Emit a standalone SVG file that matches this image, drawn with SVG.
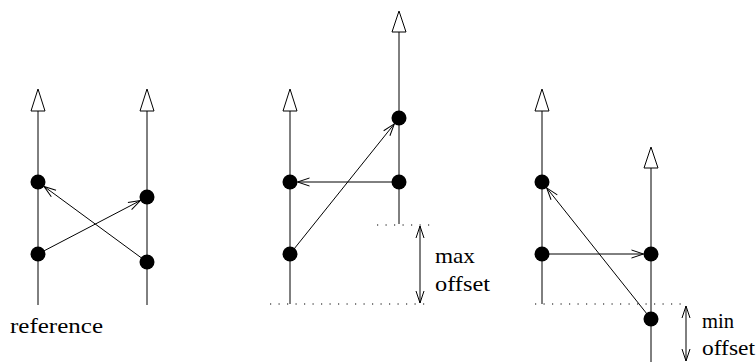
<svg xmlns="http://www.w3.org/2000/svg" width="756" height="362" viewBox="0 0 756 362">
<style>
.life{stroke:#000;stroke-width:1;fill:none}
.tri{fill:#fff;stroke:#000;stroke-width:1}
.dot{fill:#000}
.msg{stroke:#000;stroke-width:1;fill:none;marker-end:url(#v)}
.dots{stroke:#000;stroke-width:1.2;stroke-dasharray:1.2 7.3;fill:none}
.dim{stroke:#000;stroke-width:1;fill:none;marker-start:url(#vs);marker-end:url(#v)}
</style>
<defs>
<marker id="v" markerUnits="userSpaceOnUse" markerWidth="16" markerHeight="12" refX="14" refY="6" orient="auto" overflow="visible">
<path d="M2 2 L14 6 L2 10" fill="none" stroke="#000" stroke-width="1"/>
</marker>
<marker id="vs" markerUnits="userSpaceOnUse" markerWidth="16" markerHeight="12" refX="2" refY="6" orient="auto" overflow="visible">
<path d="M14 2 L2 6 L14 10" fill="none" stroke="#000" stroke-width="1"/>
</marker>
</defs>
<g id="connectors">
<line class="msg" x1="38" y1="254" x2="140.4" y2="200.5"/>
<line class="msg" x1="147" y1="262" x2="44" y2="186.4"/>
<line class="msg" x1="290" y1="254" x2="394.3" y2="123.9"/>
<line class="msg" x1="399" y1="182" x2="297.5" y2="182"/>
<line class="msg" x1="542" y1="254" x2="643.5" y2="254"/>
<line class="msg" x1="651" y1="319" x2="546.7" y2="187.9"/>
</g>
<g id="p1-left">
<line class="life" x1="38" y1="111" x2="38" y2="305"/>
<polygon class="tri" points="38,89 31,111 45,111"/>
<circle class="dot" cx="38" cy="182" r="7.5"/>
<circle class="dot" cx="38" cy="254" r="7.5"/>
</g>
<g id="p1-right">
<line class="life" x1="147" y1="111" x2="147" y2="305"/>
<polygon class="tri" points="147,89 140,111 154,111"/>
<circle class="dot" cx="147" cy="197" r="7.5"/>
<circle class="dot" cx="147" cy="262" r="7.5"/>
</g>
<text x="10" y="333" font-family="Liberation Serif, DejaVu Serif, serif" font-size="22" fill="#000" textLength="93" lengthAdjust="spacingAndGlyphs">reference</text>
<g id="p2-left">
<line class="life" x1="290" y1="111" x2="290" y2="304"/>
<polygon class="tri" points="290,89 283,111 297,111"/>
<circle class="dot" cx="290" cy="182" r="7.5"/>
<circle class="dot" cx="290" cy="254" r="7.5"/>
</g>
<g id="p2-right">
<line class="life" x1="399" y1="32" x2="399" y2="224"/>
<polygon class="tri" points="399,11 392,32 406,32"/>
<circle class="dot" cx="399" cy="118" r="7.5"/>
<circle class="dot" cx="399" cy="182" r="7.5"/>
</g>
<g id="max-offset" font-family="Liberation Serif, DejaVu Serif, serif" font-size="22" fill="#000">
<line class="dots" x1="377" y1="225" x2="430" y2="225"/>
<line class="dots" x1="270" y1="304" x2="430" y2="304"/>
<line class="dim" x1="420" y1="226" x2="420" y2="303"/>
<text x="435" y="263" textLength="40" lengthAdjust="spacingAndGlyphs">max</text>
<text x="435" y="291" textLength="55" lengthAdjust="spacingAndGlyphs">offset</text>
</g>
<g id="p3-left">
<line class="life" x1="542" y1="111" x2="542" y2="304"/>
<polygon class="tri" points="542,89 535,111 549,111"/>
<circle class="dot" cx="542" cy="182" r="7.5"/>
<circle class="dot" cx="542" cy="254" r="7.5"/>
</g>
<g id="p3-right">
<line class="life" x1="651" y1="168" x2="651" y2="362"/>
<polygon class="tri" points="651,147 644,168 658,168"/>
<circle class="dot" cx="651" cy="254" r="7.5"/>
<circle class="dot" cx="651" cy="319" r="7.5"/>
</g>
<g id="min-offset" font-family="Liberation Serif, DejaVu Serif, serif" font-size="22" fill="#000">
<line class="dots" x1="535" y1="304" x2="688" y2="304"/>
<line class="dim" x1="686" y1="306" x2="686" y2="361"/>
<text x="702" y="328" textLength="32" lengthAdjust="spacingAndGlyphs">min</text>
<text x="702" y="355" textLength="53" lengthAdjust="spacingAndGlyphs">offset</text>
</g>
</svg>
